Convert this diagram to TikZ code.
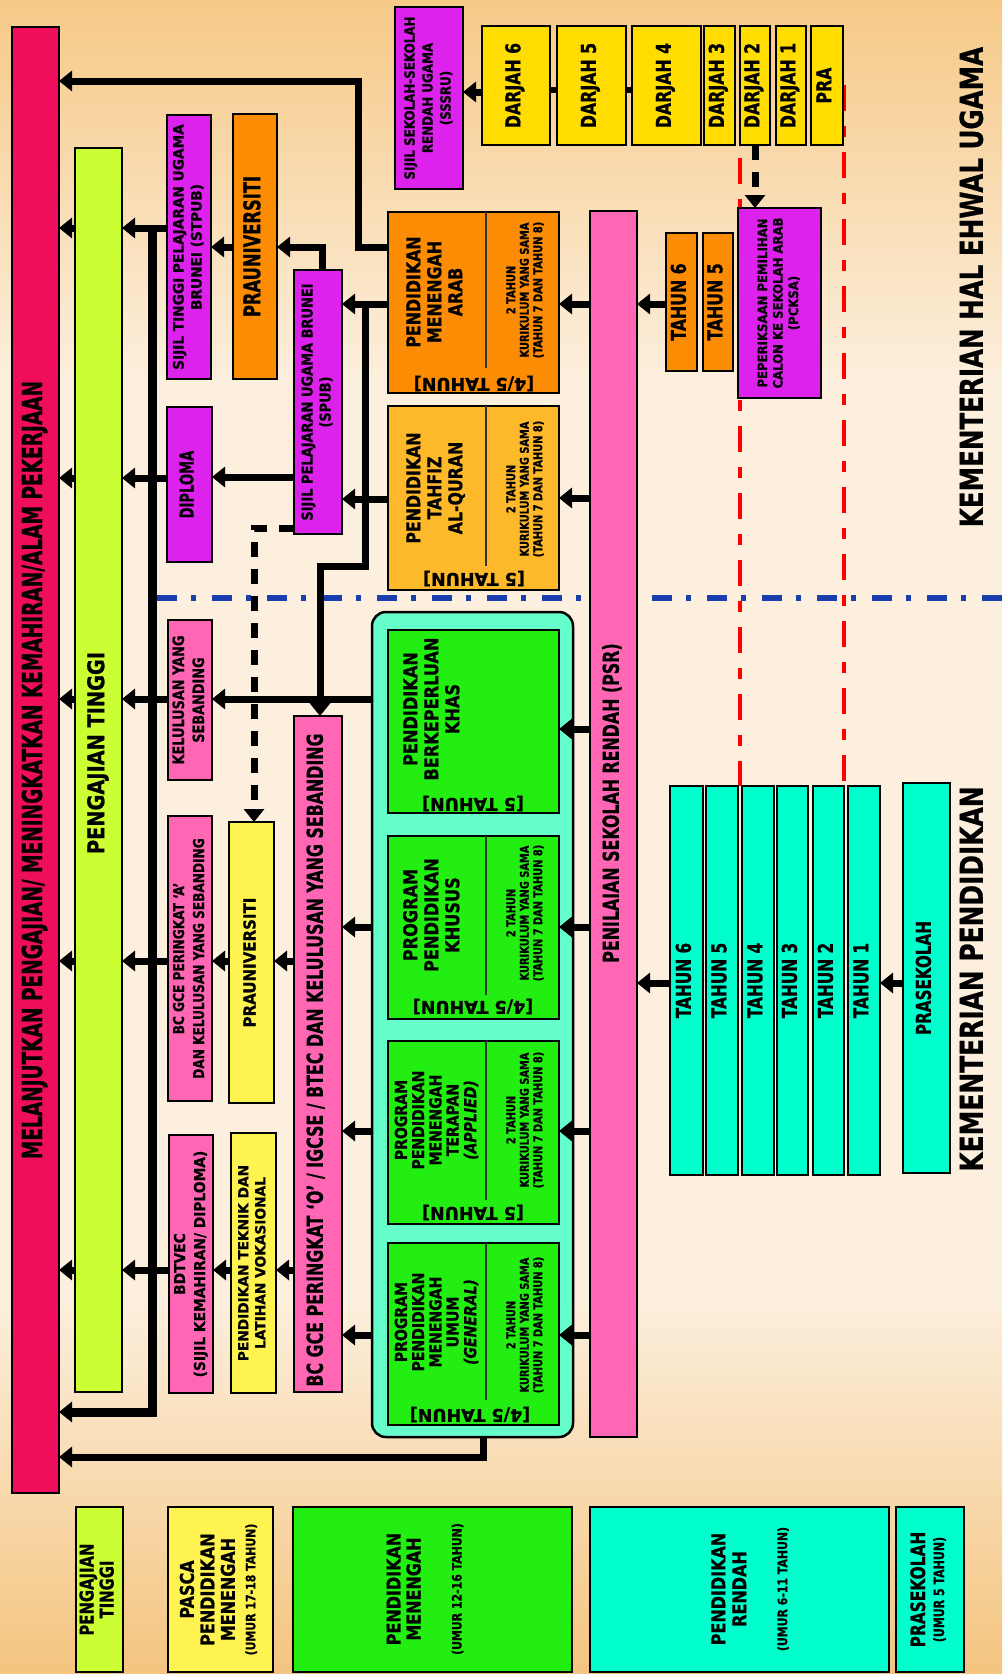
\documentclass[tikz,border=0pt]{standalone}
\usepackage{fontspec}
\setmainfont{DejaVu Sans}[BoldFeatures={FakeBold=0.8},BoldItalicFeatures={FakeBold=0.8}]
\usepackage{graphicx}
\usetikzlibrary{arrows.meta}
\definecolor{cRed}{HTML}{EE0E5C}
\definecolor{cLime}{HTML}{CCFF33}
\definecolor{cMag}{HTML}{DD22EE}
\definecolor{cOrg}{HTML}{FB8C04}
\definecolor{cTah}{HTML}{FDB92A}
\definecolor{cYel}{HTML}{FFDD00}
\definecolor{cPink}{HTML}{FF66B4}
\definecolor{cLY}{HTML}{FFF352}
\definecolor{cGreen}{HTML}{22EE11}
\definecolor{cTeal}{HTML}{66FFCC}
\definecolor{cCyan}{HTML}{00FFCC}
\definecolor{bgc}{HTML}{FCEFDD}
\definecolor{bgtop}{HTML}{F6C987}
\definecolor{bgbot}{HTML}{F4C47F}
\definecolor{cBlue}{HTML}{1A3DB0}
% rotated text: [angle]{size}{skip}{xstretch}{lines}
\newcommand\rt[5][90]{\rotatebox{#1}{\scalebox{#4}[1]{\fontsize{#2}{#3}\selectfont\bfseries\begin{tabular}{@{}c@{}}#5\end{tabular}}}}
% box: name, x1, y1, x2, y2, fill, content
\newcommand\bx[7]{\node[box,fill=#6,minimum width={#4-#2},minimum height={#5-#3}] (#1) at ({(#2+#4)/2},{(#3+#5)/2}) {#7};}
\begin{document}
\begin{tikzpicture}[x=1pt,y=-1pt,
  box/.style={draw=black,line width=2.5pt,inner sep=0pt,outer sep=0pt,rectangle},
  txt/.style={inner sep=0pt},
  ln/.style={line width=7pt},
  arr/.style={line width=7pt,-{Triangle[length=13pt,width=20pt]}},
  trunkln/.style={line width=9pt,-{Triangle[length=13pt,width=20pt]}},
  dasharr/.style={line width=7pt,dash pattern=on 15pt off 12pt,-{Triangle[length=13pt,width=20pt]}},
  div/.style={line width=1.3pt,draw=black!80},
  redline/.style={line width=4pt,draw=red,dash pattern=on 26pt off 15pt on 11pt off 15pt},
  blueline/.style={line width=6pt,draw=cBlue,dash pattern=on 20pt off 14pt on 5pt off 16pt}]
\useasboundingbox (0,0) rectangle (1002,1674);
% background
\fill[bgc] (0,0) rectangle (1002,1674);
\shade[top color=bgtop,bottom color=bgc] (0,0) rectangle (1002,380);
\shade[top color=bgc,bottom color=bgbot] (0,1300) rectangle (1002,1674);
% separators
\draw[blueline] (157,598) -- (1002,598);
\draw[redline] (740,158) -- (740,786);
\draw[redline] (844,85) -- (844,786);
% left column
\bx{red}{12}{27}{59}{1493}{cRed}{}
\node[txt] (redt) at (36,770) {\rt{27.5}{30}{0.674}{MELANJUTKAN PENGAJIAN/ MENINGKATKAN KEMAHIRAN/ALAM PEKERJAAN}};
\bx{lime}{75}{148}{122}{1392}{cLime}{}
\node[txt] (limet) at (99,753) {\rt{23}{26}{0.84}{PENGAJIAN TINGGI}};
\bx{stpub}{167}{115}{211}{379}{cMag}{\rt{14.4}{18}{0.95}{SIJIL TINGGI PELAJARAN UGAMA\\BRUNEI (STPUB)}}
\bx{prauo}{233}{114}{277}{379}{cOrg}{\rt{23}{26}{0.71}{PRAUNIVERSITI}}
\bx{spub}{294}{270}{342}{534}{cMag}{\rt{15}{18}{0.865}{SIJIL PELAJARAN UGAMA BRUNEI\\(SPUB)}}
\bx{diploma}{167}{407}{212}{562}{cMag}{\rt{19}{20}{0.69}{DIPLOMA}}
\bx{kel}{168}{620}{212}{780}{cPink}{\rt{15.5}{20}{0.83}{KELULUSAN YANG\\SEBANDING}}
\bx{bcga}{168}{816}{212}{1101}{cPink}{\rt{15}{20}{0.81}{BC GCE PERINGKAT `A'\\DAN KELULUSAN YANG SEBANDING}}
\bx{prauy}{229}{822}{274}{1103}{cLY}{\rt{16.5}{20}{0.91}{PRAUNIVERSITI}}
\bx{bdt}{169}{1135}{213}{1393}{cPink}{\rt{15}{20}{0.92}{BDTVEC\\(SIJIL KEMAHIRAN/ DIPLOMA)}}
\bx{tek}{231}{1133}{276}{1393}{cLY}{\rt{14}{17}{0.98}{PENDIDIKAN TEKNIK DAN\\LATIHAN VOKASIONAL}}
\bx{bcgo}{294}{716}{342}{1392}{cPink}{}
\node[txt] (bcgot) at (318,1060) {\rt{22}{24}{0.72}{BC GCE PERINGKAT `O' / IGCSE / BTEC DAN KELULUSAN YANG SEBANDING}};
% religious stream
\bx{sssru}{395}{7}{463}{189}{cMag}{\rt{14}{18}{0.85}{SIJIL SEKOLAH-SEKOLAH\\RENDAH UGAMA\\(SSSRU)}}
\bx{arab}{388}{212}{559}{393}{cOrg}{}
\draw[div] (486,212) -- (486,368);
\node[txt] (arabt) at (437,292) {\rt{19}{21}{0.83}{PENDIDIKAN\\MENENGAH\\ARAB}};
\node[txt] (arabk) at (526,290) {\rt{12}{13.5}{0.82}{2 TAHUN\\KURIKULUM YANG SAMA\\(TAHUN 7 DAN TAHUN 8)}};
\node[txt] (arabl) at (474,382) {\rt[180]{17.5}{18}{1}{[4/5 TAHUN]}};
\bx{tahfiz}{388}{406}{559}{590}{cTah}{}
\draw[div] (486,406) -- (486,566);
\node[txt] (tahft) at (437,488) {\rt{19}{21}{0.83}{PENDIDIKAN\\TAHFIZ\\AL-QURAN}};
\node[txt] (tahfk) at (526,489) {\rt{12}{13.5}{0.82}{2 TAHUN\\KURIKULUM YANG SAMA\\(TAHUN 7 DAN TAHUN 8)}};
\node[txt] (tahfl) at (474,577) {\rt[180]{17.5}{18}{1}{[5 TAHUN]}};
% secondary block
\node[box,fill=cTeal,rounded corners=14pt,minimum width=201,minimum height=825] (teal) at (472.5,1024.5) {};
\bx{khas}{388}{630}{559}{813}{cGreen}{}
\node[txt] (khast) at (434,709) {\rt{19}{21}{0.85}{PENDIDIKAN\\BERKEPERLUAN\\KHAS}};
\node[txt] (khasl) at (473,802) {\rt[180]{17.5}{18}{1}{[5 TAHUN]}};
\bx{khusus}{388}{836}{559}{1019}{cGreen}{}
\draw[div] (486,836) -- (486,995);
\node[txt] (khust) at (434,915) {\rt{19}{21}{0.85}{PROGRAM\\PENDIDIKAN\\KHUSUS}};
\node[txt] (khusk) at (526,913) {\rt{12}{13.5}{0.82}{2 TAHUN\\KURIKULUM YANG SAMA\\(TAHUN 7 DAN TAHUN 8)}};
\node[txt] (khusl) at (473,1005) {\rt[180]{17.5}{18}{1}{[4/5 TAHUN]}};
\bx{terapan}{388}{1041}{559}{1224}{cGreen}{}
\draw[div] (486,1041) -- (486,1200);
\node[txt] (tert) at (438,1120) {\rt{16.5}{17}{0.85}{PROGRAM\\PENDIDIKAN\\MENENGAH\\TERAPAN\\\textit{(APPLIED)}}};
\node[txt] (terk) at (526,1120) {\rt{12}{13.5}{0.82}{2 TAHUN\\KURIKULUM YANG SAMA\\(TAHUN 7 DAN TAHUN 8)}};
\node[txt] (terl) at (473,1211) {\rt[180]{17.5}{18}{1}{[5 TAHUN]}};
\bx{umum}{388}{1243}{559}{1425}{cGreen}{}
\draw[div] (486,1243) -- (486,1400);
\node[txt] (umt) at (438,1322) {\rt{16.5}{17}{0.85}{PROGRAM\\PENDIDIKAN\\MENENGAH\\UMUM\\\textit{(GENERAL)}}};
\node[txt] (umk) at (526,1325) {\rt{12}{13.5}{0.82}{2 TAHUN\\KURIKULUM YANG SAMA\\(TAHUN 7 DAN TAHUN 8)}};
\node[txt] (uml) at (470,1413) {\rt[180]{17.5}{18}{1}{[4/5 TAHUN]}};
% PSR
\bx{psr}{590}{211}{637}{1437}{cPink}{}
\node[txt] (psrt) at (614,803) {\rt{22}{24}{0.72}{PENILAIAN SEKOLAH RENDAH (PSR)}};
% darjah
\bx{d6}{482}{26}{550}{145}{cYel}{\rt{20.5}{22}{0.77}{DARJAH 6}}
\bx{d5}{557}{26}{626}{145}{cYel}{\rt{20.5}{22}{0.77}{DARJAH 5}}
\bx{d4}{632}{26}{701}{145}{cYel}{\rt{20.5}{22}{0.77}{DARJAH 4}}
\bx{d3}{704}{26}{735}{145}{cYel}{\rt{20.5}{22}{0.77}{DARJAH 3}}
\bx{d2}{740}{26}{770}{145}{cYel}{\rt{20.5}{22}{0.77}{DARJAH 2}}
\bx{d1}{776}{26}{806}{145}{cYel}{\rt{20.5}{22}{0.77}{DARJAH 1}}
\bx{pra}{811}{26}{843}{145}{cYel}{\rt{20.5}{22}{0.77}{PRA}}
\bx{t6o}{666}{233}{697}{371}{cOrg}{\rt{20.5}{22}{0.77}{TAHUN 6}}
\bx{t5o}{703}{233}{733}{371}{cOrg}{\rt{20.5}{22}{0.77}{TAHUN 5}}
\bx{pcksa}{738}{208}{821}{398}{cMag}{\rt{13}{15.5}{0.9}{PEPERIKSAAN PEMILIHAN\\CALON KE SEKOLAH ARAB\\(PCKSA)}}
% primary
\bx{ct6}{670}{786}{703}{1175}{cCyan}{\rt{20.5}{22}{0.75}{TAHUN 6}}
\bx{ct5}{706}{786}{738}{1175}{cCyan}{\rt{20.5}{22}{0.75}{TAHUN 5}}
\bx{ct4}{742}{786}{774}{1175}{cCyan}{\rt{20.5}{22}{0.75}{TAHUN 4}}
\bx{ct3}{777}{786}{808}{1175}{cCyan}{\rt{20.5}{22}{0.75}{TAHUN 3}}
\bx{ct2}{813}{786}{844}{1175}{cCyan}{\rt{20.5}{22}{0.75}{TAHUN 2}}
\bx{ct1}{848}{786}{880}{1175}{cCyan}{\rt{20.5}{22}{0.75}{TAHUN 1}}
\bx{prasek}{903}{783}{950}{1173}{cCyan}{\rt{20.5}{22}{0.74}{PRASEKOLAH}}
% titles
\node[txt] (kheu) at (976,287) {\rt{31.5}{34}{0.78}{KEMENTERIAN HAL EHWAL UGAMA}};
\node[txt] (kp) at (976,979) {\rt{31.5}{34}{0.79}{KEMENTERIAN PENDIDIKAN}};
% legend
\bx{lg1}{76}{1507}{123}{1672}{cLime}{\rt{19}{20}{0.78}{PENGAJIAN\\TINGGI}}
\bx{lg2}{168}{1507}{273}{1672}{cLY}{\rt{19}{20.5}{0.84}{PASCA\\PENDIDIKAN\\MENENGAH\\{\fontsize{13}{14}\selectfont (UMUR 17-18 TAHUN)}}}
\bx{lg3}{293}{1507}{572}{1672}{cGreen}{}
\node[txt] (lg3t) at (427,1589) {\rt{19}{20}{0.84}{PENDIDIKAN\\MENENGAH\\[21pt]{\fontsize{13}{14}\selectfont (UMUR 12-16 TAHUN)}}};
\bx{lg4}{590}{1507}{889}{1672}{cCyan}{}
\node[txt] (lg4t) at (752,1589) {\rt{19}{21}{0.84}{PENDIDIKAN\\RENDAH\\[20pt]{\fontsize{13}{14}\selectfont (UMUR 6-11 TAHUN)}}};
\bx{lg5}{896}{1507}{964}{1672}{cCyan}{\rt{20}{19}{0.77}{PRASEKOLAH\\{\fontsize{14.3}{15}\selectfont (UMUR 5 TAHUN)}}}
% ---- connectors ----
\coordinate (tr) at (152,228);
\draw[trunkln] (tr) -- (152,1412) -- (red.east |- 0,1412);
\foreach \yy in {228,478,699,961,1270} {\draw[arr] (lime.west |- 0,\yy) -- (red.east |- 0,\yy);}
\draw[arr] (stpub.west |- 0,228) -- (lime.east |- 0,228);
\draw[arr] (diploma.west |- 0,478) -- (lime.east |- 0,478);
\draw[arr] (kel.west |- 0,699) -- (lime.east |- 0,699);
\draw[arr] (bcga.west |- 0,961) -- (lime.east |- 0,961);
\draw[arr] (bdt.west |- 0,1270) -- (lime.east |- 0,1270);
\draw[arr] (prauo.west |- 0,247) -- (stpub.east |- 0,247);
\draw[arr] (spub.north -| 322,0) -- (322,247) -- (prauo.east |- 0,247);
\draw[arr] (arab.west |- 0,247) -- (358,247) -- (358,81) -- (red.east |- 0,81);
\draw[arr] (arab.west |- 0,304) -- (spub.east |- 0,304);
\draw[arr] (tahfiz.west |- 0,499) -- (spub.east |- 0,499);
\draw[arr] (365,304) -- (365,566) -- (320,566) -- (bcgo.north -| 320,0);
\draw[arr] (spub.west |- 0,477) -- (diploma.east |- 0,477);
\draw[dasharr] (spub.west |- 0,528) -- (254,528) -- (prauy.north -| 254,0);
\draw[arr] (psr.west |- 0,304) -- (arab.east |- 0,304);
\draw[arr] (psr.west |- 0,498) -- (tahfiz.east |- 0,498);
\draw[arr] (psr.west |- 0,729) -- (khas.east |- 0,729);
\draw[arr] (psr.west |- 0,927) -- (khusus.east |- 0,927);
\draw[arr] (psr.west |- 0,1131) -- (terapan.east |- 0,1131);
\draw[arr] (psr.west |- 0,1335) -- (umum.east |- 0,1335);
\draw[arr] (t6o.west |- 0,304) -- (psr.east |- 0,304);
\draw[arr] (ct6.west |- 0,983) -- (psr.east |- 0,983);
\draw[arr] (prasek.west |- 0,983) -- (ct1.east |- 0,983);
\draw[arr] (d6.west |- 0,92) -- (sssru.east |- 0,92);
\draw[ln,line width=6pt] (d6.east |- 0,90) -- (d5.west |- 0,90);
\draw[ln,line width=6pt] (d5.east |- 0,90) -- (d4.west |- 0,90);
\draw[dasharr] (d2.south) -- (d2.south |- pcksa.north);
\draw[arr] (teal.west |- 0,699) -- (kel.east |- 0,699);
\draw[arr] (teal.west |- 0,927) -- (bcgo.east |- 0,927);
\draw[arr] (teal.west |- 0,1131) -- (bcgo.east |- 0,1131);
\draw[arr] (teal.west |- 0,1335) -- (bcgo.east |- 0,1335);
\draw[arr] (bcgo.west |- 0,961) -- (prauy.east |- 0,961);
\draw[arr] (prauy.west |- 0,961) -- (bcga.east |- 0,961);
\draw[arr] (bcgo.west |- 0,1270) -- (tek.east |- 0,1270);
\draw[arr] (tek.west |- 0,1270) -- (bdt.east |- 0,1270);
\draw[arr] (teal.south -| 483,0) -- (483,1457) -- (red.east |- 0,1457);
\end{tikzpicture}
\end{document}
